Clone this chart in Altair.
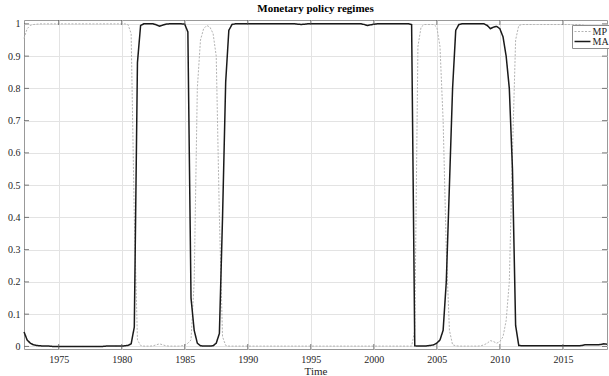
import altair as alt
import pandas as pd

# Quarterly regime probabilities, first observation 1972 Q2
start_year = 1972.25
step = 0.25

ma_values = [
    0.045, 0.02, 0.01,                      # 1972 Q2-Q4
    0.005, 0.003, 0.002, 0.001,             # 1973
    0.001, 0.001, 0.0, 0.0,                 # 1974
    0.0, 0.0, 0.0, 0.0,                     # 1975
    0.0, 0.0, 0.0, 0.0,                     # 1976
    0.0, 0.0, 0.0, 0.0,                     # 1977
    0.0, 0.0, 0.0, 0.001,                   # 1978
    0.001, 0.001, 0.001, 0.001,             # 1979
    0.001, 0.002, 0.003, 0.008,             # 1980
    0.06, 0.88, 0.995, 1.0,                 # 1981
    1.0, 1.0, 1.0, 0.997,                   # 1982
    0.993, 0.996, 0.999, 1.0,               # 1983
    1.0, 1.0, 1.0, 1.0,                     # 1984
    0.999, 0.975, 0.15, 0.05,               # 1985
    0.01, 0.002, 0.001, 0.001,              # 1986
    0.001, 0.002, 0.01, 0.04,               # 1987
    0.4, 0.82, 0.98, 0.998,                 # 1988
    1.0, 1.0, 1.0, 1.0,                     # 1989
    1.0, 1.0, 1.0, 1.0,                     # 1990
    1.0, 1.0, 1.0, 1.0,                     # 1991
    1.0, 1.0, 1.0, 1.0,                     # 1992
    1.0, 1.0, 1.0, 1.0,                     # 1993
    0.999, 0.998, 0.999, 1.0,               # 1994
    1.0, 1.0, 1.0, 1.0,                     # 1995
    1.0, 1.0, 1.0, 1.0,                     # 1996
    1.0, 1.0, 1.0, 1.0,                     # 1997
    1.0, 1.0, 1.0, 1.0,                     # 1998
    1.0, 0.998, 0.995, 0.997,               # 1999
    0.999, 1.0, 1.0, 1.0,                   # 2000
    1.0, 1.0, 1.0, 1.0,                     # 2001
    1.0, 1.0, 1.0, 1.0,                     # 2002
    0.998, 0.002, 0.001, 0.001,             # 2003
    0.001, 0.002, 0.003, 0.005,             # 2004
    0.01, 0.02, 0.05, 0.2,                  # 2005
    0.5, 0.8, 0.98, 0.998,                  # 2006
    1.0, 1.0, 1.0, 1.0,                     # 2007
    1.0, 1.0, 1.0, 1.0,                     # 2008
    0.995, 0.985, 0.99, 0.992,              # 2009
    0.985, 0.96, 0.9, 0.8,                  # 2010
    0.55, 0.065, 0.003, 0.002,              # 2011
    0.002, 0.002, 0.002, 0.002,             # 2012
    0.002, 0.002, 0.002, 0.002,             # 2013
    0.002, 0.002, 0.002, 0.002,             # 2014
    0.002, 0.002, 0.002, 0.002,             # 2015
    0.002, 0.002, 0.003, 0.005,             # 2016
    0.005, 0.005, 0.005, 0.005,             # 2017
    0.006, 0.008, 0.007,                    # 2018 Q1-Q3
]

mp_values = [
    0.955, 0.985, 0.995,                    # 1972 Q2-Q4
    0.998, 0.999, 1.0, 1.0,                 # 1973
    1.0, 1.0, 1.0, 1.0,                     # 1974
    1.0, 1.0, 1.0, 1.0,                     # 1975
    1.0, 1.0, 1.0, 1.0,                     # 1976
    1.0, 1.0, 1.0, 1.0,                     # 1977
    1.0, 1.0, 1.0, 1.0,                     # 1978
    1.0, 1.0, 1.0, 1.0,                     # 1979
    1.0, 1.0, 0.998, 0.97,                  # 1980
    0.4, 0.02, 0.003, 0.001,                # 1981
    0.001, 0.001, 0.002, 0.005,             # 1982
    0.008, 0.005, 0.002, 0.001,             # 1983
    0.001, 0.001, 0.001, 0.002,             # 1984
    0.003, 0.01, 0.02, 0.2,                 # 1985
    0.8, 0.95, 0.985, 0.995,                # 1986
    0.99, 0.97, 0.9, 0.4,                   # 1987
    0.03, 0.003, 0.001, 0.001,              # 1988
    0.001, 0.001, 0.001, 0.001,             # 1989
    0.001, 0.001, 0.001, 0.001,             # 1990
    0.001, 0.001, 0.001, 0.001,             # 1991
    0.001, 0.001, 0.001, 0.001,             # 1992
    0.001, 0.001, 0.001, 0.001,             # 1993
    0.001, 0.001, 0.001, 0.001,             # 1994
    0.001, 0.001, 0.001, 0.001,             # 1995
    0.001, 0.001, 0.001, 0.001,             # 1996
    0.001, 0.001, 0.001, 0.001,             # 1997
    0.001, 0.001, 0.001, 0.001,             # 1998
    0.001, 0.001, 0.001, 0.001,             # 1999
    0.001, 0.001, 0.001, 0.001,             # 2000
    0.001, 0.001, 0.001, 0.001,             # 2001
    0.001, 0.001, 0.001, 0.001,             # 2002
    0.001, 0.05, 0.93, 0.99,                # 2003
    0.998, 0.998, 0.998, 0.998,             # 2004
    0.99, 0.93, 0.7, 0.3,                   # 2005
    0.05, 0.005, 0.002, 0.001,              # 2006
    0.001, 0.001, 0.001, 0.001,             # 2007
    0.001, 0.001, 0.002, 0.005,             # 2008
    0.01, 0.018, 0.015, 0.01,               # 2009
    0.015, 0.03, 0.08, 0.2,                 # 2010
    0.6, 0.95, 0.995, 0.998,                # 2011
    0.998, 0.998, 0.998, 0.998,             # 2012
    0.998, 0.998, 0.998, 0.998,             # 2013
    0.998, 0.998, 0.998, 0.998,             # 2014
    0.998, 0.998, 0.998, 0.998,             # 2015
    0.998, 0.998, 0.997, 0.995,             # 2016
    0.995, 0.995, 0.995, 0.995,             # 2017
    0.994, 0.992, 0.993,                    # 2018 Q1-Q3
]

series_names = ["MP", "MA"]
series_colors = ["#b3b3b3", "#1a1a1a"]
x_ticks = [1975, 1980, 1985, 1990, 1995, 2000, 2005, 2010, 2015]
y_ticks = [0, 0.1, 0.2, 0.3, 0.4, 0.5, 0.6, 0.7, 0.8, 0.9, 1]

W, H = 583, 329
TICK_LEN = 5
TICK_COLOR = "#5a5a5a"

n = len(ma_values)
time = [start_year + step * i for i in range(n)]
df = pd.concat([
    pd.DataFrame({"Time": time, "value": mp_values, "series": "MP"}),
    pd.DataFrame({"Time": time, "value": ma_values, "series": "MA"}),
])
xt_df = pd.DataFrame({"Time": x_ticks})
yt_df = pd.DataFrame({"value": y_ticks})

FONT = "Liberation Serif"

x_scale = alt.Scale(domain=[time[0], time[-1]], nice=False, zero=False)
y_scale = alt.Scale(domain=[-0.008, 1.012], nice=False, zero=False)

x_axis = alt.Axis(values=x_ticks, format="d", grid=True, domain=False, ticks=False,
                  labelPadding=5, titlePadding=1, labelFlush=False,
                  labelFont=FONT, labelFontSize=10, labelColor="#262626",
                  titleFont=FONT, titleFontSize=11, titleColor="#262626",
                  titleFontWeight="normal", gridColor="#e3e3e3")
y_axis = alt.Axis(values=y_ticks, format="~g", grid=True, domain=False, ticks=False,
                  labelPadding=4, labelFlush=False,
                  labelFont=FONT, labelFontSize=10, labelColor="#262626",
                  gridColor="#e3e3e3")

x_enc = alt.X("Time:Q", title="Time", scale=x_scale, axis=x_axis)
y_enc = alt.Y("value:Q", title=None, scale=y_scale, axis=y_axis)

color_enc = alt.Color(
    "series:N",
    scale=alt.Scale(domain=series_names, range=series_colors),
    legend=alt.Legend(
        title=None, orient="none", legendX=548, legendY=5,
        strokeColor="#8c8c8c", fillColor="white", padding=1.5,
        labelFont=FONT, labelFontSize=10, labelColor="#222222",
        symbolType="stroke", symbolSize=256, rowPadding=0, labelOffset=1,
        clipHeight=10, cornerRadius=0,
    ),
)
dash_enc = alt.StrokeDash(
    "series:N",
    scale=alt.Scale(domain=series_names, range=[[2, 1.5], [1, 0]]),
    legend=None,
)
width_enc = alt.StrokeWidth(
    "series:N",
    scale=alt.Scale(domain=series_names, range=[1.0, 1.5]),
    legend=None,
)

base = alt.Chart(df).encode(x=x_enc, y=y_enc, color=color_enc,
                            strokeDash=dash_enc, strokeWidth=width_enc)
mp_layer = base.transform_filter(alt.datum.series == "MP").mark_line()
ma_layer = base.transform_filter(alt.datum.series == "MA").mark_line()

# inward tick marks on all four sides (MATLAB box style)
ytick_left = alt.Chart(yt_df).mark_rule(color=TICK_COLOR, strokeWidth=0.8).encode(
    y=y_enc, x=alt.value(0), x2=alt.value(TICK_LEN))
ytick_right = alt.Chart(yt_df).mark_rule(color=TICK_COLOR, strokeWidth=0.8).encode(
    y=y_enc, x=alt.value(W - TICK_LEN), x2=alt.value(W))
xtick_bottom = alt.Chart(xt_df).mark_rule(color=TICK_COLOR, strokeWidth=0.8).encode(
    x=x_enc, y=alt.value(H - TICK_LEN), y2=alt.value(H))
xtick_top = alt.Chart(xt_df).mark_rule(color=TICK_COLOR, strokeWidth=0.8).encode(
    x=x_enc, y=alt.value(0), y2=alt.value(TICK_LEN))

chart = (
    alt.layer(mp_layer, ma_layer, ytick_left, ytick_right, xtick_bottom, xtick_top)
    .properties(
        width=W, height=H,
        title=alt.TitleParams("Monetary policy regimes", font=FONT, fontSize=11,
                              fontWeight="bold", color="#000000", offset=5,
                              anchor="middle"),
        autosize=alt.AutoSizeParams(type="none"),
        padding={"left": 24, "top": 20, "right": 2, "bottom": 27},
        background="white",
    )
    .configure_view(stroke="#999999", strokeWidth=1)
)

chart.save("out.html", embed_options={"renderer": "svg", "actions": False})
